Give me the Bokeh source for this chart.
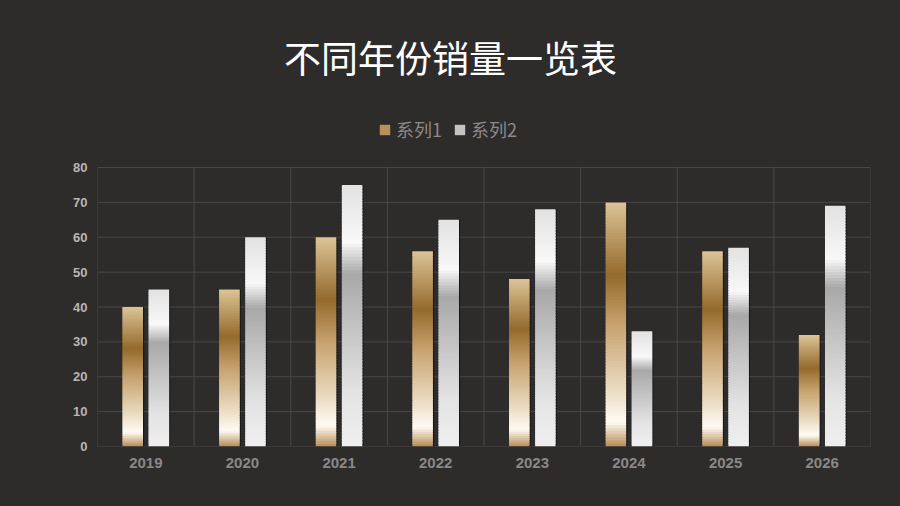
import numpy as np
from bokeh.plotting import figure
from bokeh.models import (ColumnDataSource, FixedTicker, Label, Legend,
                          LegendItem, Range1d)
from bokeh.embed import file_html
from bokeh.resources import INLINE

years = ["2019", "2020", "2021", "2022", "2023", "2024", "2025", "2026"]
series1 = [40, 45, 60, 56, 48, 70, 56, 32]
series2 = [45, 60, 75, 65, 68, 33, 57, 69]
y_ticks = [0, 10, 20, 30, 40, 50, 60, 70, 80]

BG = "#2e2b2b"
GRID = "#4a4646"

# gradient stops, from the top of a bar (0) to its bottom (1)
gold_stops = [(0.0, "#dcc497"), (0.3, "#946a2c"), (0.5, "#c7a26e"),
              (0.75, "#e8d8bc"), (0.9, "#fffbf3"), (1.0, "#b58c55")]
silver_stops = [(0.0, "#e2e2e2"), (0.22, "#f8f8f8"), (0.34, "#a8a8a8"),
                (0.55, "#c4c4c4"), (0.8, "#e4e4e4"), (1.0, "#efefef")]
N_BANDS = 80


def hex2rgb(h):
    return np.array([int(h[i:i + 2], 16) for i in (1, 3, 5)], dtype=float)


def grad_color(stops, t):
    for (t0, c0), (t1, c1) in zip(stops[:-1], stops[1:]):
        if t0 <= t <= t1:
            f = (t - t0) / (t1 - t0)
            c = hex2rgb(c0) * (1 - f) + hex2rgb(c1) * f
            return "#%02x%02x%02x" % tuple(int(round(v)) for v in c)
    return stops[-1][1]


def bands(xs, vals, stops, n=N_BANDS):
    # split each bar into thin horizontal slices to fake the metallic gradient
    d = dict(x=[], bottom=[], top=[], color=[])
    for x, v in zip(xs, vals):
        for i in range(n):
            b = v * i / n
            t = min(v * (i + 1) / n + 0.4, v)
            d["x"].append(x)
            d["bottom"].append(b)
            d["top"].append(t)
            d["color"].append(grad_color(stops, 1 - (i + 0.5) / n))
    return ColumnDataSource(d)


centers = np.arange(len(years)) + 0.5
off = 0.135
bw = 0.212

# plot frame: 97..870 x 167..446 px for the 0..80 part, the rest above is room
# for the title and legend (kept inside the frame so they are not clipped)
px_per_unit = (446 - 167) / 80
p = figure(width=884, height=490, output_backend="svg", toolbar_location=None,
           x_range=Range1d(0, len(years)),
           y_range=Range1d(0, 80 + 167 / px_per_unit),
           background_fill_color=BG, border_fill_color=BG,
           min_border_left=97, min_border_right=14, min_border_top=0,
           min_border_bottom=44)
p.grid.visible = False
p.outline_line_color = None

# grid drawn by hand so it stops at 80
p.segment(x0=0, x1=len(years), y0=y_ticks, y1=y_ticks, line_color=GRID,
          line_width=1)
p.segment(x0=list(range(len(years) + 1)), x1=list(range(len(years) + 1)),
          y0=0, y1=y_ticks[-1], line_color=GRID, line_width=1)

# shadows
p.vbar(x=centers - off + 0.012, top=series1, width=bw, fill_color="black",
       fill_alpha=0.45, line_color=None)
p.vbar(x=centers + off + 0.012, top=series2, width=bw, fill_color="black",
       fill_alpha=0.45, line_color=None)

r1 = p.vbar(x="x", bottom="bottom", top="top", width=bw, fill_color="color",
            line_color=None, source=bands(centers - off, series1, gold_stops))
r2 = p.vbar(x="x", bottom="bottom", top="top", width=bw, fill_color="color",
            line_color=None, source=bands(centers + off, series2, silver_stops))

# legend swatches take the colour of one slice of the first bar
legend = Legend(items=[LegendItem(label="系列1", renderers=[r1],
                                  index=int(N_BANDS * 0.55)),
                       LegendItem(label="系列2", renderers=[r2],
                                  index=int(N_BANDS * 0.45))],
                orientation="horizontal", location=(277, 300),
                glyph_width=13, glyph_height=13, spacing=11,
                label_standoff=5, padding=4, margin=0,
                label_text_font="Noto Sans CJK SC", label_text_font_size="18px",
                label_text_color="#8c8a8a", background_fill_alpha=0,
                border_line_alpha=0)
p.add_layout(legend)

p.add_layout(Label(x=353, y=390, x_units="screen", y_units="screen",
                   text="不同年份销量一览表", text_align="center",
                   text_baseline="middle", text_font="Noto Sans CJK SC",
                   text_font_size="37px", text_color="white"))

p.xaxis.ticker = FixedTicker(ticks=list(centers))
p.xaxis.major_label_overrides = {float(c): y for c, y in zip(centers, years)}
p.yaxis.ticker = FixedTicker(ticks=y_ticks)
for ax in (p.xaxis, p.yaxis):
    ax.axis_line_color = None
    ax.major_tick_line_color = None
    ax.minor_tick_line_color = None
    ax.major_tick_out = 0
    ax.major_tick_in = 0
    ax.major_label_text_font = "Liberation Sans"
    ax.major_label_text_font_style = "bold"
p.xaxis.major_label_text_font_size = "15px"
p.xaxis.major_label_text_color = "#8a8888"
p.xaxis.major_label_standoff = 11
p.yaxis.major_label_text_font_size = "13px"
p.yaxis.major_label_text_color = "#b8b6b6"
p.yaxis.major_label_standoff = 10

html = file_html(p, INLINE)
html = html.replace("<head>",
                    "<head><style>body{background:%s;margin:0;}</style>" % BG, 1)
open("out.html", "w").write(html)
